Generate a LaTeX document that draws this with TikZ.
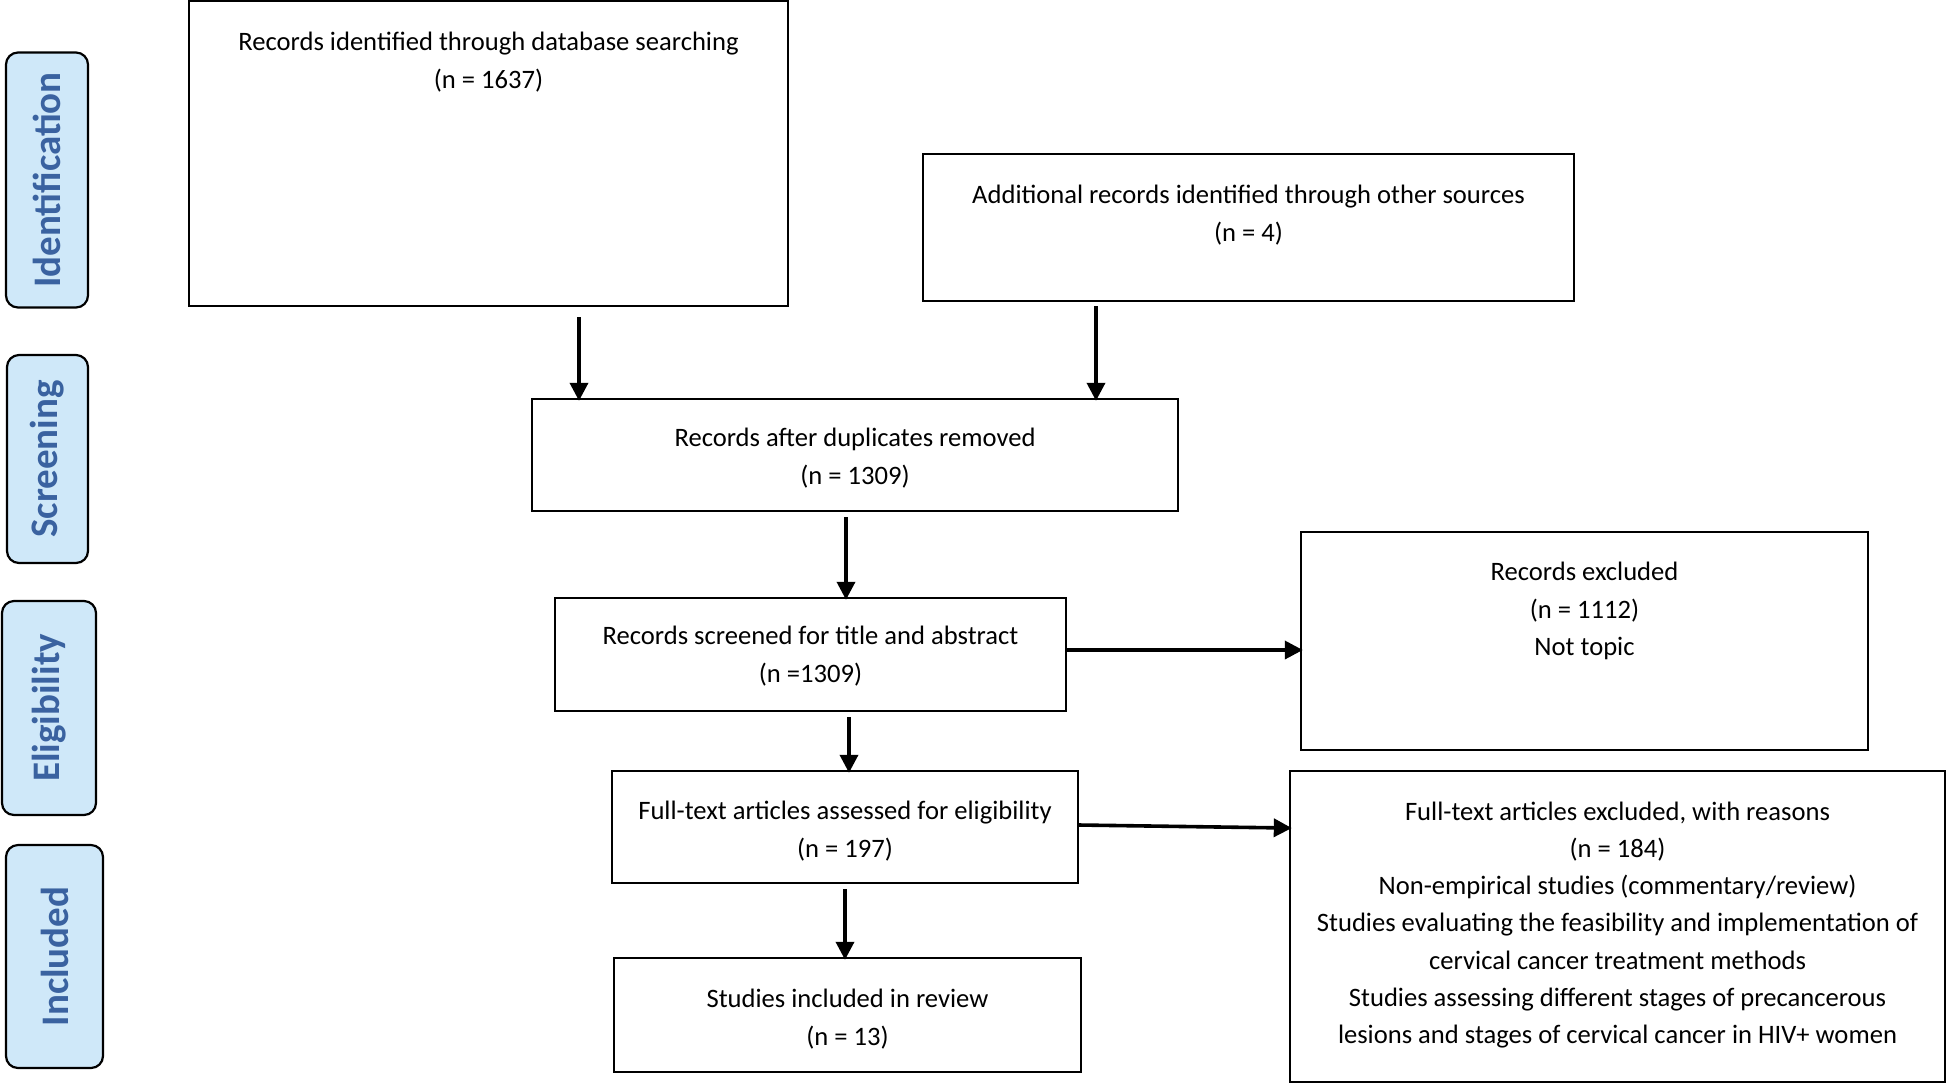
\documentclass[tikz,border=0pt]{standalone}
\usepackage{fontspec}
\setmainfont{Carlito}
\usetikzlibrary{arrows.meta}
\definecolor{sidefill}{HTML}{CFE8F9}
\definecolor{sidetext}{HTML}{3A62A0}
\tikzset{
  box/.style={draw=black, line width=1.2pt, fill=white, inner sep=0pt},
  txt/.style={align=center, inner sep=0pt, font=\fontsize{13.3pt}{18.6pt}\selectfont},
  side/.style={draw=black, line width=1.1pt, fill=sidefill, rounded corners=6pt, inner sep=0pt},
  sidelbl/.style={rotate=90, text=sidetext, font=\fontsize{19.5pt}{21pt}\selectfont\bfseries, inner sep=0pt},
  arr/.style={line width=1.8pt, -{Triangle[length=9pt,width=9pt]}, shorten >=-1.5pt}
}
\begin{document}
\begin{tikzpicture}[x=0.5pt,y=-0.5pt]
\useasboundingbox (0,0) rectangle (1948,1084);
% side labels
\node[side, minimum width=41pt, minimum height=127.5pt] (s1) at (47,180) {};
\node[sidelbl] at (s1) {Identification};
\node[side, minimum width=40.5pt, minimum height=104pt] (s2) at (47.5,459) {};
\node[sidelbl] at (s2) {Screening};
\node[side, minimum width=47pt, minimum height=107pt] (s3) at (49,708) {};
\node[sidelbl] at (s3) {Eligibility};
\node[side, minimum width=48.5pt, minimum height=111.5pt] (s4) at (54.5,956.5) {};
\node[sidelbl] at (s4) {Included};
% boxes
\node[box, minimum width=299.5pt, minimum height=152.5pt] (A) at (488.5,153.5) {};
\node[txt] (At) at (488.5,62) {Records identified through database searching\\(n = 1637)};
\node[box, minimum width=325.5pt, minimum height=73.5pt] (B) at (1248.5,227.5) {};
\node[txt] (Bt) at (1248.5,215) {Additional records identified through other sources\\(n = 4)};
\node[box, minimum width=323pt, minimum height=56pt] (C) at (855,455) {};
\node[txt] at (855,458) {Records after duplicates removed\\(n = 1309)};
\node[box, minimum width=255.5pt, minimum height=56.5pt] (D) at (810.5,654.5) {};
\node[txt] at (810.5,656) {Records screened for title and abstract\\(n =1309)};
\node[box, minimum width=283.5pt, minimum height=109pt] (E) at (1584.5,641) {};
\node[txt] (Et) at (1584.5,611) {Records excluded\\(n = 1112)\\Not topic};
\node[box, minimum width=233pt, minimum height=56pt] (F) at (845,827) {};
\node[txt] at (845,831) {Full-text articles assessed for eligibility\\(n = 197)};
\node[box, minimum width=327.5pt, minimum height=155.5pt] (G) at (1617.5,926.5) {};
\node[txt] (Gt) at (1617.5,925) {Full-text articles excluded, with reasons\\(n = 184)\\Non-empirical studies (commentary/review)\\Studies evaluating the feasibility and implementation of\\cervical cancer treatment methods\\Studies assessing different stages of precancerous\\lesions and stages of cervical cancer in HIV+ women};
\node[box, minimum width=233.5pt, minimum height=57pt] (H) at (847.5,1015) {};
\node[txt] at (847.5,1019) {Studies included in review\\(n = 13)};
% arrows
\draw[arr] ([yshift=-5pt]A.south -| 579,0) -- (C.north -| 579,0);
\draw[arr] ([yshift=-2pt]B.south -| 1096,0) -- (C.north -| 1096,0);
\draw[arr] ([yshift=-2.5pt]C.south -| 846,0) -- (D.north -| 846,0);
\draw[arr] (D.east |- 0,650) -- (E.west |- 0,650);
\draw[arr] ([yshift=-2.5pt]D.south -| 849,0) -- (F.north -| 849,0);
\draw[arr] (F.east |- 0,825) -- (G.west |- 0,828);
\draw[arr] ([yshift=-2.5pt]F.south -| 845,0) -- (H.north -| 845,0);
\end{tikzpicture}
\end{document}
